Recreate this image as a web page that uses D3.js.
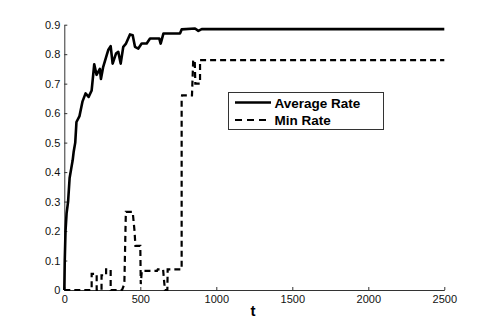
<!DOCTYPE html>
<html>
<head>
<meta charset="utf-8">
<script src="https://cdn.jsdelivr.net/npm/d3@7"></script>
<style>
  body { margin: 0; background: #fff; }
  svg { display: block; font-family: "Liberation Sans", Arial, sans-serif; }
</style>
</head>
<body>
<div id="chart"></div>
<script>
// time / value pairs
const avgT = [0, 3, 8, 15, 25, 35, 45, 55, 62, 72, 80, 100, 120, 140, 160, 180, 197, 212, 234, 241, 256, 279, 289, 305, 318, 340, 355, 371, 388, 406, 432, 450, 465, 487, 509, 542, 564, 625, 634, 652, 761, 772, 860, 882, 904, 2500];
const avgV = [0, 0.1, 0.2, 0.26, 0.3, 0.38, 0.41, 0.44, 0.47, 0.5, 0.57, 0.59, 0.64, 0.667, 0.655, 0.677, 0.766, 0.73, 0.75, 0.716, 0.757, 0.797, 0.814, 0.827, 0.768, 0.802, 0.808, 0.768, 0.825, 0.836, 0.867, 0.864, 0.825, 0.819, 0.836, 0.836, 0.853, 0.853, 0.836, 0.87, 0.87, 0.884, 0.887, 0.879, 0.885, 0.885];

const minT = [0, 180, 180, 213, 213, 245, 245, 275, 275, 305, 305, 380, 395, 405, 450, 462, 468, 500, 503, 510, 610, 615, 650, 655, 662, 678, 680, 772, 772, 775, 840, 848, 858, 862, 893, 893, 2500];
const minV = [0, 0, 0.055, 0.055, 0, 0, 0.05, 0.05, 0.07, 0.07, 0, 0, 0.02, 0.265, 0.265, 0.2, 0.15, 0.15, 0.02, 0.065, 0.065, 0.07, 0.07, 0.04, 0, 0, 0.07, 0.07, 0.65, 0.66, 0.66, 0.78, 0.78, 0.7, 0.7, 0.78, 0.78];

const xTicks = [0, 500, 1000, 1500, 2000, 2500];
const yTicks = [0, 0.1, 0.2, 0.3, 0.4, 0.5, 0.6, 0.7, 0.8, 0.9];
const seriesNames = ['Average Rate', 'Min Rate'];

const svgWidth = 491, svgHeight = 327;
const svg = d3.select('#chart').append('svg')
  .attr('width', svgWidth)
  .attr('height', svgHeight);

const x = d3.scaleLinear().domain([0, 2500]).range([64.3, 444.3]);
const y = d3.scaleLinear().domain([0, 0.9]).range([290, 24.7]);

// axes, matlab style ticks pointing inward
const xAxis = svg.append('g')
  .attr('transform', `translate(0,${y(0)})`)
  .call(d3.axisBottom(x).tickValues(xTicks).tickSizeInner(-3).tickSizeOuter(0).tickPadding(5).tickFormat(d3.format('d')));
const yAxis = svg.append('g')
  .attr('transform', `translate(${x(0)},0)`)
  .call(d3.axisLeft(y).tickValues(yTicks).tickSizeInner(-3).tickSizeOuter(0).tickPadding(4).tickFormat((d) => d === 0 ? '0' : d3.format('.1f')(d)));

[xAxis, yAxis].forEach((g) => {
  g.selectAll('path, line').attr('stroke', '#333');
  g.selectAll('text').attr('fill', '#111').style('font-size', '11px');
});

svg.append('text')
  .attr('x', 253)
  .attr('y', 316)
  .attr('text-anchor', 'middle')
  .style('font-size', '15px')
  .style('font-weight', 'bold')
  .text('t');

const line = d3.line()
  .x((d) => x(d[0]))
  .y((d) => y(d[1]));

svg.append('path')
  .datum(minT.map((t, i) => [t, minV[i]]))
  .attr('fill', 'none')
  .attr('stroke', '#000')
  .attr('stroke-width', 2.2)
  .attr('stroke-dasharray', '6,4')
  .attr('d', line);

svg.append('path')
  .datum(avgT.map((t, i) => [t, avgV[i]]))
  .attr('fill', 'none')
  .attr('stroke', '#000')
  .attr('stroke-width', 2.6)
  .attr('stroke-linejoin', 'round')
  .attr('d', line);

// legend
const legend = svg.append('g');
legend.append('rect')
  .attr('x', 228.5)
  .attr('y', 92.5)
  .attr('width', 155)
  .attr('height', 37)
  .attr('fill', '#fff')
  .attr('stroke', '#333')
  .attr('stroke-width', 1);

seriesNames.forEach((name, i) => {
  const ly = 102.5 + i * 17.5;
  legend.append('line')
    .attr('x1', 235)
    .attr('x2', 271)
    .attr('y1', ly)
    .attr('y2', ly)
    .attr('stroke', '#000')
    .attr('stroke-width', i === 0 ? 2.6 : 2.2)
    .attr('stroke-dasharray', i === 0 ? null : '7,5');
  legend.append('text')
    .attr('x', 274.5)
    .attr('y', ly + 5)
    .style('font-size', '13.5px')
    .style('font-weight', 'bold')
    .text(name);
});
</script>
</body>
</html>
